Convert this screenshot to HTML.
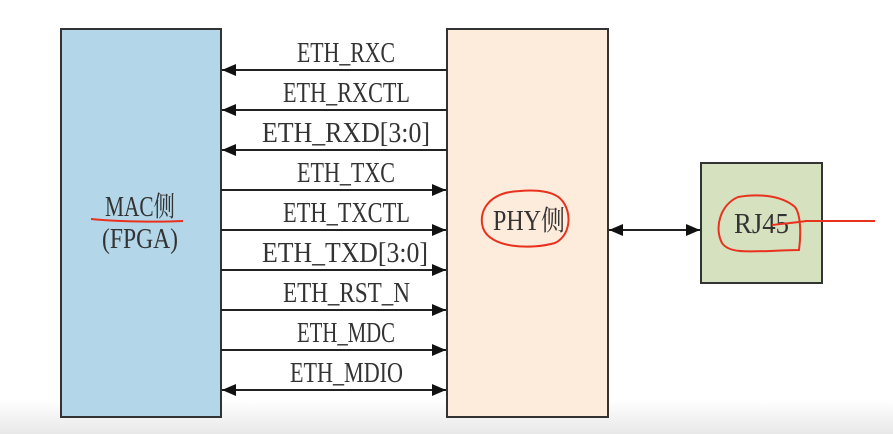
<!DOCTYPE html>
<html><head><meta charset="utf-8"><style>
html,body{margin:0;padding:0;background:#fff;}
svg{display:block;}
text{font-family:"Liberation Serif","Noto Serif CJK SC",serif;fill:#333;}
</style></head><body>
<svg width="893" height="434" viewBox="0 0 893 434" xmlns="http://www.w3.org/2000/svg">
<defs>
<marker id="a" markerWidth="14" markerHeight="12" refX="14" refY="6" orient="auto-start-reverse" markerUnits="userSpaceOnUse">
<path d="M0,0 L14,6 L0,12 z" fill="#111"/></marker>
<linearGradient id="bg" x1="0" y1="0" x2="0" y2="1"><stop offset="0" stop-color="#fff"/><stop offset="1" stop-color="#e8e8e8"/></linearGradient>
</defs>
<rect x="0" y="400" width="893" height="34" fill="url(#bg)"/>
<rect x="61" y="29" width="160" height="388" fill="#b3d6e8" stroke="#333" stroke-width="2"/>
<rect x="447" y="29" width="161" height="388" fill="#fdebdc" stroke="#333" stroke-width="2"/>
<rect x="701" y="163" width="121" height="120" fill="#d6e1c0" stroke="#333" stroke-width="2"/>
<g stroke="#222" stroke-width="2">
<line x1="447" y1="70" x2="222" y2="70" marker-end="url(#a)"/>
<line x1="447" y1="110" x2="222" y2="110" marker-end="url(#a)"/>
<line x1="447" y1="150" x2="222" y2="150" marker-end="url(#a)"/>
<line x1="221" y1="190" x2="446" y2="190" marker-end="url(#a)"/>
<line x1="221" y1="230" x2="446" y2="230" marker-end="url(#a)"/>
<line x1="221" y1="270" x2="446" y2="270" marker-end="url(#a)"/>
<line x1="221" y1="310" x2="446" y2="310" marker-end="url(#a)"/>
<line x1="221" y1="350" x2="446" y2="350" marker-end="url(#a)"/>
<line x1="222" y1="390" x2="446" y2="390" marker-start="url(#a)" marker-end="url(#a)"/>
<line x1="609" y1="230" x2="700" y2="230" marker-start="url(#a)" marker-end="url(#a)"/>
</g>
<g font-size="28">
<text x="297" y="62" textLength="98" lengthAdjust="spacingAndGlyphs">ETH_RXC</text>
<text x="283" y="102" textLength="127" lengthAdjust="spacingAndGlyphs">ETH_RXCTL</text>
<text x="262" y="142" textLength="168" lengthAdjust="spacingAndGlyphs">ETH_RXD[3:0]</text>
<text x="297" y="182" textLength="98" lengthAdjust="spacingAndGlyphs">ETH_TXC</text>
<text x="283" y="222" textLength="127" lengthAdjust="spacingAndGlyphs">ETH_TXCTL</text>
<text x="262" y="262" textLength="166" lengthAdjust="spacingAndGlyphs">ETH_TXD[3:0]</text>
<text x="283" y="302" textLength="127" lengthAdjust="spacingAndGlyphs">ETH_RST_N</text>
<text x="297" y="342" textLength="98" lengthAdjust="spacingAndGlyphs">ETH_MDC</text>
<text x="290" y="382" textLength="113" lengthAdjust="spacingAndGlyphs">ETH_MDIO</text>
<text x="105" y="216" textLength="70" lengthAdjust="spacingAndGlyphs">MAC侧</text>
<text x="102" y="248" textLength="76" lengthAdjust="spacingAndGlyphs">(FPGA)</text>
<text x="493" y="230" textLength="72" lengthAdjust="spacingAndGlyphs">PHY侧</text>
<text x="734" y="233" textLength="55" lengthAdjust="spacingAndGlyphs">RJ45</text>
</g>
<g fill="none" stroke="#e8321e" stroke-width="2">
<path d="M91,219 C120,222 160,222 183,221"/>
<path d="M520,191 C488,192 478,212 483,228 C490,248 530,250 555,243 C574,234 572,203 555,195 C545,190 530,190 520,191 Z"/>
<path d="M738,197 C720,205 714,228 722,243 C730,255 752,251 799,250 C801,235 801,215 795,207 C780,194 755,194 738,197"/>
<path d="M772,225 C790,223 800,222 806,221 C830,221 860,221 875,221"/>
</g>
</svg>
</body></html>
